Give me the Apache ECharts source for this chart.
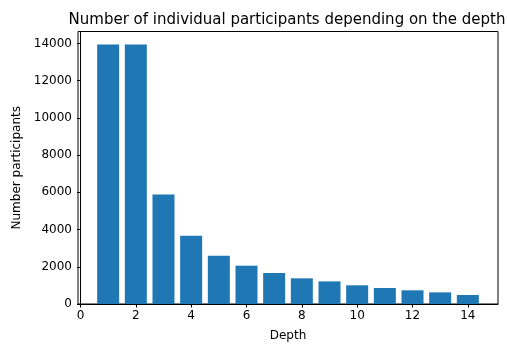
<!DOCTYPE html>
<html>
<head>
<meta charset="utf-8">
<script src="https://cdn.jsdelivr.net/npm/echarts@6/dist/echarts.min.js"></script>
<style>
html,body{margin:0;padding:0;background:#fff;}
#chart{width:507px;height:347px;}
</style>
</head>
<body>
<div id="chart"></div>
<script>
var depths = [1,2,3,4,5,6,7,8,9,10,11,12,13,14];
var participants = [13950,13950,5890,3670,2590,2060,1665,1380,1215,1005,860,735,625,485];
var xTicks = [0,2,4,6,8,10,12,14];
var yTicks = [0,2000,4000,6000,8000,10000,12000,14000];

var chart = echarts.init(document.getElementById('chart'), null, {renderer:'canvas'});
var font = 'DejaVu Sans';
chart.setOption({
  animation: false,
  backgroundColor: '#ffffff',
  title: {
    text: 'Number of individual participants depending on the depth',
    left: 282, top: 8, textAlign: 'center',
    textStyle: {fontFamily: font, fontSize: 15, fontWeight: 'normal', color: '#000'}
  },
  grid: {left: 78, right: 9, top: 31.5, bottom: 43, show: true, borderColor: '#000', borderWidth: 1, backgroundColor: 'transparent'},
  xAxis: {
    type: 'value', min: -0.09, max: 15.09,
    name: 'Depth', nameLocation: 'middle', nameGap: 26,
    nameTextStyle: {fontFamily: font, fontSize: 12, color: '#000'},
    axisLine: {show: true, lineStyle: {color: '#000', width: 1}},
    axisTick: {show: true, customValues: xTicks, length: 3.5, inside: false, lineStyle: {color: '#000'}},
    axisLabel: {customValues: xTicks, fontFamily: font, fontSize: 12, color: '#000', margin: 6, formatter: function(v){return String(v);}},
    splitLine: {show: false}
  },
  yAxis: {
    type: 'value', min: 0, max: 14647,
    name: 'Number participants', nameLocation: 'middle', nameGap: 55,
    nameTextStyle: {fontFamily: font, fontSize: 12, color: '#000'},
    axisLine: {show: true, lineStyle: {color: '#000', width: 1}},
    axisTick: {show: true, customValues: yTicks, length: 3.5, lineStyle: {color: '#000'}},
    axisLabel: {customValues: yTicks, fontFamily: font, fontSize: 12, color: '#000', margin: 6, formatter: function(v){return String(v);}},
    splitLine: {show: false}
  },
  series: [{
    type: 'bar',
    data: depths.map(function(d,i){return [d, participants[i]];}),
    barWidth: 22,
    itemStyle: {color: '#1f77b4'}
  }]
});
</script>
</body>
</html>
